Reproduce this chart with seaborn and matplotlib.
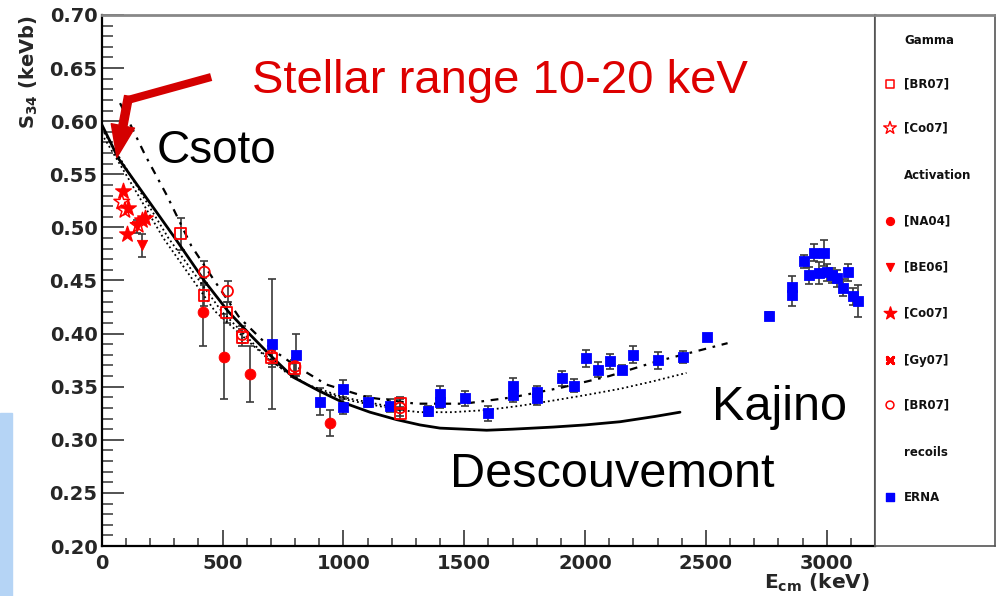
import numpy as np
import pandas as pd
import matplotlib
matplotlib.use("Agg")
import matplotlib.pyplot as plt
import seaborn as sns
from matplotlib.patches import Rectangle, FancyArrowPatch
from matplotlib.ticker import MultipleLocator, FormatStrFormatter

# ---------------- data ----------------
# ERNA recoils (blue squares)
erna_x = [703, 804, 903, 1000, 1000, 1103, 1193, 1351, 1400, 1400, 1503, 1600, 1703, 1703,
          1802, 1802, 1903, 1954, 2004, 2055, 2103, 2154, 2200, 2303, 2404, 2503, 2761,
          2855, 2855, 2906, 2927, 2947, 2968, 2988, 3002, 3023, 3043, 3068, 3089, 3110, 3130]
erna_y = [0.390, 0.380, 0.336, 0.348, 0.331, 0.336, 0.332, 0.327, 0.343, 0.336, 0.339, 0.325,
          0.351, 0.342, 0.345, 0.339, 0.358, 0.351, 0.377, 0.366, 0.374, 0.366, 0.380, 0.375,
          0.378, 0.397, 0.417, 0.444, 0.436, 0.468, 0.455, 0.476, 0.457, 0.476, 0.458, 0.455,
          0.452, 0.443, 0.458, 0.435, 0.431]
erna_e = [0.061, 0.020, 0.013, 0.008, 0.007, 0.005, 0.006, 0.005, 0.008, 0.006, 0.007, 0.007,
          0.007, 0.006, 0.006, 0.006, 0.007, 0.006, 0.008, 0.007, 0.007, 0.004, 0.008, 0.008,
          0.006, 0.003, 0.003, 0.010, 0.010, 0.006, 0.008, 0.008, 0.010, 0.012, 0.008, 0.007,
          0.008, 0.008, 0.008, 0.008, 0.015]

# Gamma [BR07] (open squares)
gbr_x = [327, 423, 517, 582, 703, 797, 1235, 1235]
gbr_y = [0.494, 0.436, 0.420, 0.396, 0.377, 0.367, 0.334, 0.325]
gbr_e = [0.015, 0.010, 0.010, 0.008, 0.008, 0.008, 0.006, 0.006]

# Gamma [Co07] (open stars)
gco_x = [83, 96, 151]
gco_y = [0.524, 0.516, 0.502]

# Activation [NA04] (filled circles)
na_x = [421, 506, 615, 945]
na_y = [0.420, 0.378, 0.362, 0.316]
na_e = [0.032, 0.040, 0.026, 0.012]

# Activation [BE06] (filled down triangles)
be_x = [145, 165]
be_y = [0.501, 0.483]
be_e = [0.006, 0.011]

# Activation [Co07] (filled stars)
aco_x = [90, 103, 110, 165, 179]
aco_y = [0.534, 0.494, 0.518, 0.507, 0.509]

# Activation [BR07] (open circles)
abr_x = [425, 521, 582, 703, 800, 1235]
abr_y = [0.458, 0.440, 0.399, 0.379, 0.369, 0.330]
abr_e = [0.010, 0.010, 0.008, 0.008, 0.008, 0.008]

# Theory curves
desc_x = [0, 69, 200, 303, 427, 523, 614, 700, 792, 900, 1000, 1110, 1220, 1317, 1400,
          1500, 1593, 1700, 1869, 2000, 2145, 2290, 2393]
desc_y = [0.597, 0.565, 0.523, 0.490, 0.449, 0.421, 0.399, 0.379, 0.359, 0.346, 0.335,
          0.326, 0.319, 0.314, 0.311, 0.310, 0.309, 0.310, 0.312, 0.314, 0.317, 0.322, 0.326]
csoto_x = [76, 180, 270, 370, 460, 570, 700, 800, 930, 1100, 1300, 1500, 1700, 1900,
           2100, 2300, 2590]
csoto_y = [0.617, 0.568, 0.530, 0.483, 0.452, 0.415, 0.386, 0.370, 0.352, 0.340, 0.334,
           0.334, 0.340, 0.349, 0.360, 0.374, 0.391]
kaj1_x = [0, 100, 276, 496, 600, 660, 760, 889, 1027, 1234, 1317, 1450, 1593, 1730, 1869,
          2000, 2145, 2280, 2420]
kaj1_y = [0.593, 0.556, 0.490, 0.421, 0.397, 0.383, 0.364, 0.347, 0.337, 0.328, 0.326,
          0.326, 0.328, 0.332, 0.337, 0.342, 0.348, 0.355, 0.363]
kaj2_x = [0, 100, 255, 469, 586, 700, 850, 1000, 1200]
kaj2_y = [0.588, 0.550, 0.490, 0.421, 0.397, 0.374, 0.352, 0.340, 0.331]

# ---------------- style ----------------
sns.set_style("white")
plt.rcParams["font.family"] = ["Liberation Sans", "DejaVu Sans"]
plt.rcParams["mathtext.fontset"] = "custom"
plt.rcParams["mathtext.bf"] = "DejaVu Sans:bold"
plt.rcParams["mathtext.rm"] = "DejaVu Sans:bold"

W, H = 996, 596
fig = plt.figure(figsize=(W / 100, H / 100), dpi=100)
L, R, T, B = 101.7, 875, 15, 546
ax = fig.add_axes([L / W, 1 - B / H, (R - L) / W, (B - T) / H])
axl = fig.add_axes([R / W, 1 - B / H, (995 - R) / W, (B - T) / H])

RED = "#ff0000"
BLUE = "#0000ff"
ECOL = "#3a3a3a"

# theory curves
sns.lineplot(x=desc_x, y=desc_y, ax=ax, color="black", lw=2.0, sort=False, estimator=None, zorder=4)
sns.lineplot(x=csoto_x, y=csoto_y, ax=ax, color="black", lw=1.6, sort=False, estimator=None,
             linestyle=(0, (3.5, 3, 1.2, 3)), zorder=4)
sns.lineplot(x=kaj1_x, y=kaj1_y, ax=ax, color="black", lw=1.3, sort=False, estimator=None,
             linestyle=(0, (1, 1.6)), zorder=4)
sns.lineplot(x=kaj2_x, y=kaj2_y, ax=ax, color="black", lw=1.3, sort=False, estimator=None,
             linestyle=(0, (1, 1.6)), zorder=4)

# error bars
ebk = dict(fmt="none", ecolor=ECOL, elinewidth=1.2, capsize=3, capthick=1.2, zorder=2)
ax.errorbar(erna_x, erna_y, yerr=erna_e, **ebk)
ax.errorbar(gbr_x, gbr_y, yerr=gbr_e, **ebk)
ax.errorbar(na_x, na_y, yerr=na_e, **ebk)
ax.errorbar(be_x, be_y, yerr=be_e, **ebk)
ax.errorbar(abr_x, abr_y, yerr=abr_e, **ebk)

# markers
sns.scatterplot(x=erna_x, y=erna_y, ax=ax, marker="s", s=55, color=BLUE, edgecolor=BLUE, zorder=5)
sns.scatterplot(x=gbr_x, y=gbr_y, ax=ax, marker="s", s=60, color=RED, facecolor="none",
                edgecolor=RED, linewidth=1.3, zorder=5)
sns.scatterplot(x=abr_x, y=abr_y, ax=ax, marker="o", s=60, color=RED, facecolor="none",
                edgecolor=RED, linewidth=1.3, zorder=5)
sns.scatterplot(x=na_x, y=na_y, ax=ax, marker="o", s=60, color=RED, edgecolor=RED, zorder=5)
sns.scatterplot(x=be_x, y=be_y, ax=ax, marker="v", s=55, color=RED, edgecolor=RED, zorder=5)
sns.scatterplot(x=aco_x, y=aco_y, ax=ax, marker="*", s=140, color=RED, edgecolor=RED, zorder=5)
sns.scatterplot(x=gco_x, y=gco_y, ax=ax, marker="*", s=140, color=RED, facecolor="none",
                edgecolor=RED, linewidth=1.1, zorder=5)

# axes
ax.set_xlim(0, 3200)
ax.set_ylim(0.20, 0.70)
ax.xaxis.set_major_locator(MultipleLocator(500))
ax.xaxis.set_minor_locator(MultipleLocator(100))
ax.yaxis.set_major_locator(MultipleLocator(0.05))
ax.yaxis.set_minor_locator(MultipleLocator(0.01))
ax.yaxis.set_major_formatter(FormatStrFormatter("%.2f"))
ax.tick_params(axis="both", which="both", bottom=True, left=True, top=False, right=False)
ax.tick_params(axis="y", which="major", direction="in", length=15.5, width=1.3, color="#444",
               pad=3, labelsize=14)
ax.tick_params(axis="y", which="minor", direction="in", length=8, width=1.3, color="#555")
ax.tick_params(axis="x", which="major", direction="in", length=11.5, width=1.3, color="#444",
               pad=6, labelsize=14)
ax.tick_params(axis="x", which="minor", direction="in", length=5.8, width=1.3, color="#555")
for lab in ax.get_xticklabels() + ax.get_yticklabels():
    lab.set_fontfamily("DejaVu Sans")
    lab.set_fontweight("bold")
ax.set_xlabel("")
ax.set_ylabel("")
for side in ["left", "bottom"]:
    ax.spines[side].set_color("black")
    ax.spines[side].set_linewidth(1.6)
ax.spines["top"].set_color("#888")
ax.spines["top"].set_linewidth(2.0)
ax.spines["right"].set_color("#555")
ax.spines["right"].set_linewidth(1.5)

fig.text(29 / W, 1 - 15 / H, r"$\mathbf{S_{34}}$ (keVb)", rotation=90, ha="center", va="top",
         fontsize=14, fontweight="bold", family="DejaVu Sans")
fig.text(870 / W, 1 - 572 / H, r"$\mathbf{E_{cm}}$ (keV)", ha="right", va="top",
         fontsize=14.5, fontweight="bold", family="DejaVu Sans")

# annotations
ax.text(620, 0.6266, "Stellar range 10-20 keV", color="#dd0000", fontsize=34, va="baseline",
        ha="left", zorder=6)
ax.text(228, 0.5606, "Csoto", color="black", fontsize=33, va="baseline", ha="left", zorder=6)
ax.text(2524, 0.3186, "Kajino", color="black", fontsize=35, va="baseline", ha="left", zorder=6)
ax.text(1441, 0.2558, "Descouvemont", color="black", fontsize=35, va="baseline", ha="left", zorder=6)

# red arrow
ax.plot([453, 109], [0.6416, 0.6200], color="#d40000", lw=5.8, solid_capstyle="butt", zorder=7)
arr = FancyArrowPatch((111, 0.6235), (63, 0.566), arrowstyle="simple,head_length=23,head_width=17,tail_width=5.8",
                      mutation_scale=1, shrinkA=0, shrinkB=0, color="#d40000", zorder=7)
ax.add_patch(arr)

# legend panel
axl.set_xlim(R, 995)
axl.set_ylim(B, T)
axl.set_xticks([])
axl.set_yticks([])
for side in axl.spines:
    axl.spines[side].set_color("#555")
    axl.spines[side].set_linewidth(1.2)
axl.spines["top"].set_color("#888")
axl.spines["top"].set_linewidth(2.0)

leg_items = [
    ("Gamma", 40, None),
    ("[BR07]", 84, dict(marker="s", facecolor="none", edgecolor=RED, s=32, linewidth=1.1)),
    ("[Co07]", 128, dict(marker="*", facecolor="none", edgecolor=RED, s=90, linewidth=1.0)),
    ("Activation", 175, None),
    ("[NA04]", 221, dict(marker="o", color=RED, s=32)),
    ("[BE06]", 267, dict(marker="v", color=RED, s=32)),
    ("[Co07]", 313, dict(marker="*", color=RED, s=90)),
    ("[Gy07]", 360, dict(marker=(4, 2, 45), color=RED, s=40, linewidth=2.2)),
    ("[BR07]", 405, dict(marker="o", facecolor="none", edgecolor=RED, s=32, linewidth=1.1)),
    ("recoils", 452, None),
    ("ERNA", 497, dict(marker="s", color=BLUE, s=28)),
]
for label, yy, mk in leg_items:
    axl.text(904, yy, label, fontsize=8.5, fontweight="bold", family="DejaVu Sans",
             color="#111", va="center", ha="left")
    if mk is not None:
        axl.scatter([890], [yy], **mk)
axl.scatter([890], [360], marker="_", color=RED, s=30, linewidths=1.6)

# light blue patch at left edge
fig.add_artist(Rectangle((0, 0), 12 / W, (H - 413) / H, transform=fig.transFigure,
                         color="#b5d4f5", zorder=0))

fig.savefig("out.png", dpi=100)
